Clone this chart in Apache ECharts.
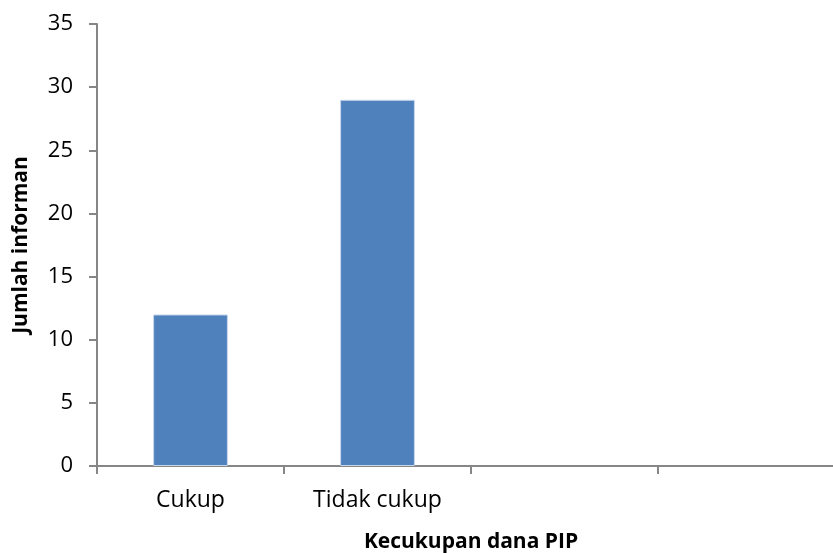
<!DOCTYPE html>
<html>
<head>
<meta charset="utf-8">
<script src="https://cdn.jsdelivr.net/npm/echarts@6/dist/echarts.min.js"></script>
<style>
  html, body { margin: 0; padding: 0; background: #fff; }
  #chart { width: 833px; height: 553px; }
</style>
</head>
<body>
<div id="chart"></div>
<script>
// data
const categories = ['Cukup', 'Tidak cukup', '', ''];
const values = [12, 29, null, null];
const yTicks = { min: 0, max: 35, step: 5 };

const chart = echarts.init(document.getElementById('chart'));
const axisGrey = '#868686';
const font = '"Open Sans", Lato, sans-serif';

const option = {
    animation: false,
    backgroundColor: '#ffffff',
    grid: {
        left: 97,
        right: -12,
        top: 24,
        bottom: 87,
        outerBoundsMode: 'none',
        containLabel: false
    },
    xAxis: {
        type: 'category',
        data: categories,
        name: 'Kecukupan dana PIP',
        nameLocation: 'middle',
        nameGap: 66,
        nameTextStyle: { fontFamily: font, fontWeight: 'bold', fontSize: 21, color: '#000' },
        axisLine: { lineStyle: { color: axisGrey, width: 2 } },
        axisTick: { show: true, length: 8, lineStyle: { color: axisGrey, width: 2 } },
        axisLabel: { fontFamily: font, fontSize: 23, color: '#000', margin: 23, interval: 0 }
    },
    yAxis: {
        type: 'value',
        min: yTicks.min,
        max: yTicks.max,
        interval: yTicks.step,
        name: 'Jumlah informan',
        nameLocation: 'middle',
        nameGap: 65,
        nameTextStyle: { fontFamily: font, fontWeight: 'bold', fontSize: 21, color: '#000' },
        axisLine: { show: true, lineStyle: { color: axisGrey, width: 2 } },
        axisTick: { show: true, length: 8, lineStyle: { color: axisGrey, width: 2 } },
        axisLabel: { fontFamily: font, fontSize: 22, color: '#000', margin: 24 },
        splitLine: { show: false }
    },
    series: [{
        type: 'bar',
        data: values,
        barWidth: '40%',
        itemStyle: { color: '#4F81BD', borderColor: '#C9D7EA', borderWidth: 1 }
    }]
};

chart.setOption(option);
</script>
</body>
</html>
